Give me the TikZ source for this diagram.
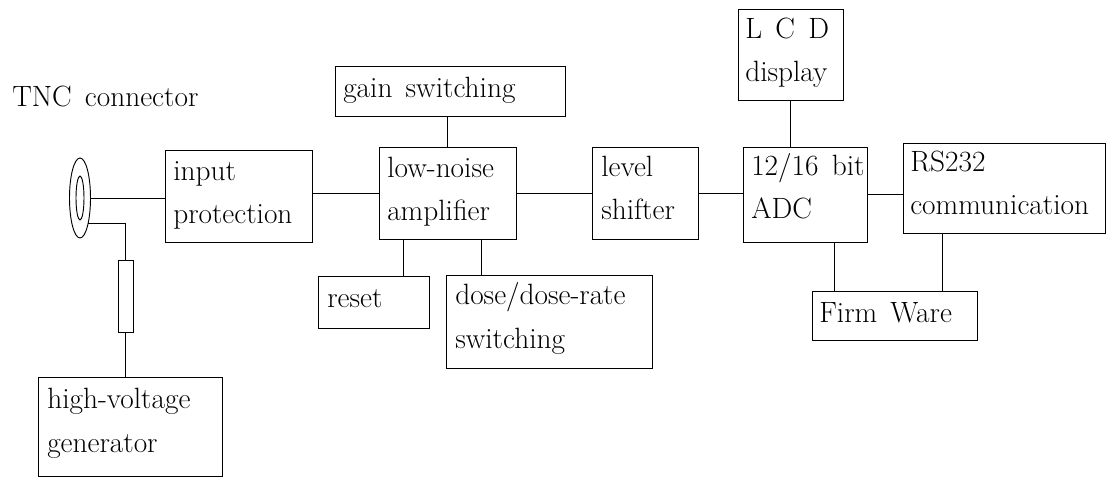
\documentclass[tikz,border=0pt]{standalone}
\usetikzlibrary{shapes.geometric,fit}
\newcommand\diagfont{\fontsize{22}{32.5}\selectfont\spaceskip=0.45em\relax}
\begin{document}
\begin{tikzpicture}[x=0.75pt,y=-0.75pt,
  box/.style={draw, line width=0.7pt, inner sep=0pt},
  txt/.style={font=\diagfont, align=left, anchor=base west, inner sep=0pt},
  wire/.style={line width=0.7pt},
  ring/.style={draw, ellipse, line width=0.7pt, inner sep=0pt}]
\useasboundingbox (0,0) rectangle (1110,477);
% boxes
\node[box, fit={(165,150) (312,242)}] (inprot) {};
\node[box, fit={(379,147) (516,239)}] (lna) {};
\node[box, fit={(335,66) (565,116)}] (gain) {};
\node[box, fit={(318,276) (429,328)}] (reset) {};
\node[box, fit={(446,275) (652,368)}] (dose) {};
\node[box, fit={(592,147) (698,239)}] (level) {};
\node[box, fit={(738,9) (843,100)}] (lcd) {};
\node[box, fit={(743,147) (867,242)}] (adc) {};
\node[box, fit={(903,143) (1105,233)}] (rs) {};
\node[box, fit={(812,291) (977,340)}] (fw) {};
\node[box, fit={(38,377) (222,476)}] (hv) {};
\node[box, fit={(118,260) (133,332)}] (res) {};
% connector
\node[ring, minimum width=15.75pt, minimum height=60pt] (conn) at (80,198) {};
\node[ring, minimum width=6pt, minimum height=33pt] (conninner) at (80,198) {};
% texts (anchor = baseline of the last line)
\node[txt] (ttnc) at (12,107) {TNC connector};
\node[txt] (tinprot) at (173,224) {input\\protection};
\node[txt] (tlna) at (387,221) {low-noise\\amplifier};
\node[txt] (tgain) at (343,98) {gain switching};
\node[txt] (treset) at (327,308) {reset};
\node[txt] (tdose) at (455,348) {dose/dose-rate\\switching};
\node[txt] (tlevel) at (601,220) {level\\shifter};
\node[txt] (tlcd) at (745,82) {L\hspace{10pt}C\hspace{10pt}D\\display};
\node[txt] (tadc) at (751,219) {12/16 bit\\ADC};
\node[txt] (trs) at (910,215) {RS232\\communication};
\node[txt] (tfw) at (819,322) {Firm Ware};
\node[txt] (thv) at (47,452) {high-voltage\\generator};
% wires
\draw[wire] (conn.east) -- (conn.east -| inprot.west);
\draw[wire] (conn.-72) -| (res.north);
\draw[wire] (res.south) -- (res.south |- hv.north);
\draw[wire] (lna.west -| inprot.east) -- (lna.west);
\draw[wire] (lna.east) -- (level.west);
\draw[wire] (lna.north) -- (lna.north |- gain.south);
\draw[wire] ([xshift=18.75pt]lna.south west) -- ([xshift=18.75pt]lna.south west |- reset.north);
\draw[wire] ([xshift=77.25pt]lna.south west) -- ([xshift=77.25pt]lna.south west |- dose.north);
\draw[wire] (level.east) -- (level.east -| adc.west);
\draw[wire] (lcd.south) -- (lcd.south |- adc.north);
\draw[wire] (adc.east) -- (adc.east -| rs.west);
\draw[wire] ([xshift=17.25pt]fw.north west) -- ([xshift=17.25pt]fw.north west |- adc.south);
\draw[wire] ([xshift=98.25pt]fw.north west) -- ([xshift=98.25pt]fw.north west |- rs.south);
\end{tikzpicture}
\end{document}
